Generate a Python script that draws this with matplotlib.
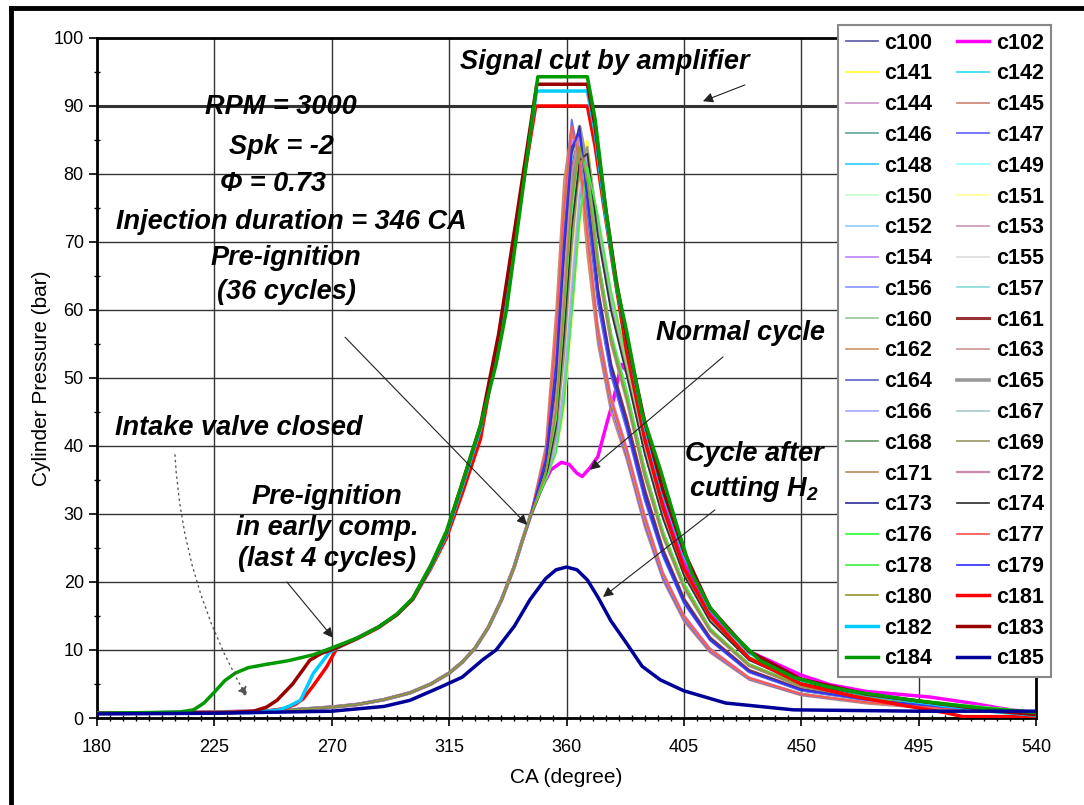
import matplotlib.pyplot as plt
from matplotlib import font_manager
from matplotlib.lines import Line2D

# pick the narrow face for ticks/labels if it is there
names = {f.name for f in font_manager.fontManager.ttflist}
NARROW = 'Liberation Sans Narrow' if 'Liberation Sans Narrow' in names else 'Liberation Sans'
plt.rcParams['font.family'] = ['Liberation Sans', 'DejaVu Sans']
plt.rcParams['mathtext.fontset'] = 'custom'
plt.rcParams['mathtext.rm'] = 'Liberation Sans:italic:bold'
plt.rcParams['mathtext.it'] = 'Liberation Sans:italic:bold'

# ---- shared compression part (all normal / late pre-ignition cycles) ----
COMP_CA = [180, 200, 220, 240, 255, 270, 280, 290, 300, 308, 315, 320, 325, 330, 335, 340, 343]
COMP_P = [0.7, 0.75, 0.85, 1.0, 1.2, 1.6, 2.0, 2.7, 3.7, 5.0, 6.6, 8.2, 10.3, 13.3, 17.3, 22.3, 26.0]

# ---- combustion / expansion part of the pre-ignition cycles ----
POST_CA = [346, 352, 356, 359, 362, 365, 368, 372, 377, 383, 390, 397, 405, 415, 430, 450, 475, 505, 540]
c100 = [29.5, 38, 55, 74, 86, 82, 70, 57, 46.5, 39, 29, 21, 14.8, 10, 5.8, 3.5, 2.3, 1.3, 0.6]
c141 = [29.4, 35, 41, 52, 68, 80, 85, 72, 61, 51.5, 39.5, 30, 21.5, 14.5, 8.7, 5.2, 3.3, 2.1, 0.9]
c142 = [29.6, 37, 50, 68, 82, 86, 76, 62, 51, 43, 32.5, 24, 17, 11.5, 6.8, 4.1, 2.7, 1.6, 0.7]
c144 = [29.5, 36, 46, 62, 78, 85, 79, 67, 56, 47.5, 36, 27, 19.5, 13, 7.8, 4.7, 3.0, 1.9, 0.8]
c145 = [29.5, 40, 60, 79, 87, 80, 68, 55, 45, 38, 28, 20.2, 14.2, 9.6, 5.6, 3.3, 2.1, 1.2, 0.5]
c146 = [29.4, 35, 40, 48, 62, 76, 84, 73, 62, 52, 40, 30.3, 21.8, 14.7, 8.8, 5.3, 3.4, 2.1, 0.9]
c147 = [29.6, 39, 57, 76, 88, 82, 70, 56, 46, 38.5, 28.5, 20.5, 14.5, 9.8, 5.7, 3.4, 2.2, 1.3, 0.6]
c148 = [29.5, 36, 44, 58, 75, 84, 80, 67.5, 56.5, 48, 36.5, 27.3, 19.7, 13.1, 7.9, 4.8, 3.0, 1.9, 0.8]
c149 = [29.5, 35, 42, 55, 71, 82, 83, 71, 60, 50.5, 39, 29.5, 21.2, 14.3, 8.6, 5.2, 3.3, 2.0, 0.9]
c150 = [29.4, 36, 47, 64, 79, 85, 77, 63, 52, 43.5, 33, 24.5, 17.3, 11.7, 6.9, 4.2, 2.7, 1.6, 0.7]
c151 = [29.5, 35, 39, 45, 58, 72, 81, 73, 62, 52.5, 40.5, 30.7, 22, 14.8, 8.9, 5.3, 3.4, 2.1, 0.9]
c152 = [29.6, 37, 52, 70, 84, 85, 75, 61, 50.5, 42.5, 32, 23.6, 16.8, 11.4, 6.7, 4.0, 2.6, 1.6, 0.7]
c153 = [29.5, 36, 45, 60, 76, 84, 79, 66.5, 55.5, 47, 35.5, 26.7, 19.2, 12.8, 7.7, 4.6, 2.9, 1.8, 0.8]
c154 = [29.4, 38, 54, 72, 85, 83, 72, 58, 47.5, 40, 30, 21.5, 15.2, 10.3, 6, 3.6, 2.3, 1.4, 0.6]
c155 = [29.5, 35, 41, 50, 65, 78, 84, 72, 61, 51.5, 39.5, 30, 21.5, 14.5, 8.7, 5.2, 3.3, 2.1, 0.9]
c156 = [29.5, 37, 49, 66, 81, 86, 77, 62.5, 51.5, 43, 33, 24.2, 17.2, 11.6, 6.8, 4.1, 2.7, 1.6, 0.7]
c157 = [29.6, 36, 43, 57, 73, 83, 80, 68, 57, 48.5, 36.8, 27.6, 19.9, 13.2, 8.0, 4.8, 3.1, 1.9, 0.8]
c160 = [29.5, 35, 40, 47, 60, 74, 82, 73, 62, 52, 40, 30.2, 21.7, 14.6, 8.8, 5.3, 3.4, 2.1, 0.9]
c161 = [29.5, 37, 48, 65, 80, 86, 78, 63, 52, 44, 33.5, 24.7, 17.5, 11.8, 7.0, 4.2, 2.8, 1.7, 0.7]
c162 = [29.4, 39, 58, 77, 87, 81, 69, 56.5, 46.5, 39, 29, 21, 14.8, 10, 5.8, 3.5, 2.2, 1.3, 0.6]
c163 = [29.5, 36, 45, 61, 77, 85, 79, 66, 55, 46.5, 35.3, 26.5, 19, 12.7, 7.6, 4.6, 2.9, 1.8, 0.8]
c164 = [29.5, 38, 53, 71, 84, 84, 74, 61, 50.5, 42.5, 32, 23.8, 16.9, 11.4, 6.7, 4.0, 2.6, 1.6, 0.7]
c165 = [29.6, 36, 42, 58, 78, 87, 81, 67, 56, 47.5, 36, 27, 19.5, 13, 7.8, 4.7, 3.0, 1.9, 0.8]
c166 = [29.5, 35, 40, 49, 63, 77, 83, 72, 61, 51, 39.2, 29.7, 21.3, 14.4, 8.6, 5.2, 3.3, 2.0, 0.9]
c167 = [29.4, 37, 51, 69, 83, 85, 76, 62, 51, 43, 32.8, 24.2, 17.1, 11.6, 6.8, 4.1, 2.7, 1.6, 0.7]
c168 = [29.5, 36, 46, 63, 79, 86, 80, 66.5, 55.5, 47, 35.7, 26.8, 19.3, 12.9, 7.7, 4.6, 2.9, 1.8, 0.8]
c169 = [29.5, 35, 42, 53, 69, 81, 84, 71.5, 60.5, 51, 39, 29.5, 21.2, 14.3, 8.6, 5.2, 3.3, 2.0, 0.9]
c171 = [29.6, 38, 55, 73, 86, 83, 72, 57.5, 47, 39.5, 29.5, 21.3, 15, 10.2, 5.9, 3.6, 2.3, 1.4, 0.6]
c172 = [29.5, 36, 47, 64, 80, 86, 80, 67, 56, 47.5, 36.2, 27.2, 19.6, 13.1, 7.8, 4.7, 3.0, 1.9, 0.8]
c173 = [29.5, 37, 50, 68, 83, 87, 77, 63, 52, 43.5, 33.2, 24.5, 17.4, 11.7, 6.9, 4.2, 2.7, 1.7, 0.7]
c174 = [29.4, 35, 43, 56, 72, 82, 83, 71, 60, 50.5, 38.8, 29.3, 21, 14.2, 8.5, 5.1, 3.3, 2.0, 0.9]
c176 = [29.5, 36, 44, 59, 75, 84, 80, 67.5, 56.5, 48, 36.5, 27.4, 19.8, 13.2, 7.9, 4.8, 3.0, 1.9, 0.8]
c177 = [29.5, 39, 57, 75, 87, 82, 71, 57, 47, 39.5, 29.5, 21.2, 15, 10.1, 5.9, 3.5, 2.3, 1.4, 0.6]
c178 = [29.6, 35, 39, 46, 59, 73, 81, 74, 63, 53, 41, 31, 22.2, 15, 9, 5.4, 3.5, 2.2, 0.9]
c179 = [29.5, 38, 52, 70, 84, 86, 76, 62, 51, 43, 32.5, 24, 17, 11.5, 6.8, 4.1, 2.7, 1.6, 0.7]
c180 = [29.5, 36, 45, 60, 76, 84, 79, 67, 56, 47.2, 36, 27, 19.4, 13, 7.8, 4.7, 3.0, 1.9, 0.8]

# ---- normal cycle (c102) after the shared compression ----
c102_ca = [346, 350, 354, 358, 361, 364, 366, 369, 372, 375.5, 378, 381, 385, 390, 397, 405, 415, 430, 450, 461, 475, 499, 515, 530, 540]
c102_p = [29.5, 33.5, 36.5, 37.6, 37.3, 36.0, 35.5, 36.8, 38.4, 43.4, 46.8, 52, 50, 42, 32, 23, 15.5, 9.8, 6.3, 4.9, 3.9, 3.1, 2.2, 1.2, 0.8]

# ---- pre-ignition in early compression (last 4 cycles), clipped by amplifier ----
c181_ca = [180, 230, 245, 252, 256, 259, 263, 268, 272, 280, 288, 295, 301, 308, 314, 320, 327, 334.5, 341, 348.2,
           368, 371, 374, 378, 383, 390, 397, 405, 415, 430, 450, 470, 490, 505, 512, 540]
c181_p = [0.7, 0.8, 1.0, 1.4, 2.0, 2.8, 4.8, 7.5, 10.3, 11.7, 13.3, 15.2, 17.4, 22, 26.5, 33, 41, 57, 73, 90,
          90, 84, 76, 66, 54, 41, 31, 22, 15, 8.8, 5.0, 3.2, 1.8, 0.8, 0.2, 0.2]
c182_ca = [180, 240, 250, 254, 258, 263, 269, 272, 280, 288, 295, 301, 308, 314, 320, 327, 334, 341, 348.5,
           368, 371, 375, 379, 383, 390, 397, 405, 415, 430, 450, 475, 505, 525, 540]
c182_p = [0.7, 0.8, 1.2, 1.8, 2.6, 6.6, 9.6, 10.3, 11.8, 13.4, 15.2, 17.5, 22.2, 27, 34, 42.5, 56, 73, 92.2,
          92.2, 86, 74, 64, 56, 43, 33, 24, 16, 9.6, 5.6, 3.4, 1.8, 0.9, 0.4]
c183_ca = [180, 232, 240, 245, 249, 255, 261.6, 266, 270.5, 280, 288, 295, 301, 308, 314, 320, 327, 334, 341, 348.6,
           368, 371, 375, 379, 383, 390, 397, 405, 415, 430, 450, 475, 505, 525, 540]
c183_p = [0.7, 0.8, 1.0, 1.6, 2.6, 5.0, 8.5, 9.5, 10.1, 11.8, 13.4, 15.2, 17.5, 22.4, 27.3, 34.5, 43, 56.5, 74, 93.2,
          93.2, 87, 75, 64.5, 56, 43.5, 33.5, 24.5, 16.2, 9.8, 5.7, 3.5, 2.0, 1.0, 0.5]
c184_ca = [180, 200, 212, 217, 221, 225, 229, 233, 238, 245, 253, 263, 270, 280, 288, 295, 301, 308, 314, 320, 327, 333, 337, 343, 349,
           368, 371, 375, 379, 383, 389, 396, 402, 408, 415, 422, 434, 447, 460, 473, 495, 520, 540]
c184_p = [0.7, 0.8, 0.9, 1.2, 2.2, 3.8, 5.5, 6.6, 7.4, 7.9, 8.4, 9.3, 10.3, 11.8, 13.4, 15.3, 17.6, 22.5, 27.5, 34.5, 43, 52, 60, 77, 94.3,
          94.3, 88, 75, 64, 57, 44.8, 36.5, 28.7, 21.3, 16.3, 13, 8.5, 6, 4.6, 3.7, 2.5, 1.4, 0.8]

# ---- cycle after cutting H2 ----
c185_ca = [180, 225, 270, 290, 300, 312, 320, 328, 333, 340, 346, 352, 356, 360, 364, 368, 372, 377, 383, 389, 396, 405, 421, 447, 495, 540]
c185_p = [0.6, 0.7, 1.0, 1.7, 2.6, 4.6, 6.0, 8.6, 10.0, 13.5, 17.4, 20.5, 21.8, 22.2, 21.8, 20.3, 17.8, 14.3, 11.0, 7.6, 5.6, 4.0, 2.2, 1.2, 1.0, 1.0]

LEGEND_ROWS = [('c100', 'c102'), ('c141', 'c142'), ('c144', 'c145'), ('c146', 'c147'), ('c148', 'c149'),
               ('c150', 'c151'), ('c152', 'c153'), ('c154', 'c155'), ('c156', 'c157'), ('c160', 'c161'),
               ('c162', 'c163'), ('c164', 'c165'), ('c166', 'c167'), ('c168', 'c169'), ('c171', 'c172'),
               ('c173', 'c174'), ('c176', 'c177'), ('c178', 'c179'), ('c180', 'c181'), ('c182', 'c183'),
               ('c184', 'c185')]

COLORS = {
    'c100': '#5c5ca8', 'c102': '#ff00ff', 'c141': '#ffff33', 'c142': '#33ddee', 'c144': '#cc99cc',
    'c145': '#cc8877', 'c146': '#66aaa0', 'c147': '#6666ff', 'c148': '#33ccff', 'c149': '#99ffff',
    'c150': '#ccffcc', 'c151': '#ffff99', 'c152': '#99ccff', 'c153': '#cc99bb', 'c154': '#bb88ff',
    'c155': '#dddddd', 'c156': '#8899ff', 'c157': '#88dddd', 'c160': '#99cc99', 'c161': '#993333',
    'c162': '#cc9966', 'c163': '#cc9999', 'c164': '#6666cc', 'c165': '#999999', 'c166': '#aaaaff',
    'c167': '#aacccc', 'c168': '#669966', 'c169': '#999966', 'c171': '#c09060', 'c172': '#cc88aa',
    'c173': '#333399', 'c174': '#333333', 'c176': '#33ff33', 'c177': '#ff5555', 'c178': '#44ee44',
    'c179': '#3333ff', 'c180': '#999933', 'c181': '#ff0000', 'c182': '#00ccff', 'c183': '#990000',
    'c184': '#009900', 'c185': '#000099',
}
WIDTHS = {'c102': 2.5, 'c161': 2.2, 'c165': 2.6, 'c172': 1.6, 'c181': 2.5, 'c182': 2.5,
          'c183': 2.5, 'c184': 2.5, 'c185': 2.5}

THIN = {'c100': c100, 'c141': c141, 'c142': c142, 'c144': c144, 'c145': c145, 'c146': c146, 'c147': c147,
        'c148': c148, 'c149': c149, 'c150': c150, 'c151': c151, 'c152': c152, 'c153': c153, 'c154': c154,
        'c155': c155, 'c156': c156, 'c157': c157, 'c160': c160, 'c161': c161, 'c162': c162, 'c163': c163,
        'c164': c164, 'c165': c165, 'c166': c166, 'c167': c167, 'c168': c168, 'c169': c169, 'c171': c171,
        'c172': c172, 'c173': c173, 'c174': c174, 'c176': c176, 'c177': c177, 'c178': c178, 'c179': c179,
        'c180': c180}

series = {k: (COMP_CA + POST_CA, COMP_P + v) for k, v in THIN.items()}
series['c102'] = (COMP_CA + c102_ca, COMP_P + c102_p)
series['c181'] = (c181_ca, c181_p)
series['c182'] = (c182_ca, c182_p)
series['c183'] = (c183_ca, c183_p)
series['c184'] = (c184_ca, c184_p)
series['c185'] = (c185_ca, c185_p)

fig = plt.figure(figsize=(10.84, 8.05), dpi=100)
ax = fig.add_axes([97 / 1084, 1 - 718 / 805, 939 / 1084, 680 / 805])

# draw in series order (c100, c102, c141 ... c185)
order = sorted(series.keys(), key=lambda s: int(s[1:]))
lines = {}
for name in order:
    x, y = series[name]
    lines[name], = ax.plot(x, y, color=COLORS[name], lw=WIDTHS.get(name, 1.25), zorder=3)

ax.set_xlim(180, 540)
ax.set_ylim(0, 100)
ax.set_xticks(range(180, 541, 45))
ax.set_yticks(range(0, 101, 10))
ax.set_xticks(range(180, 541, 5), minor=True)
ax.set_yticks(range(0, 101, 5), minor=True)
ax.grid(True, which='major', color='#333333', lw=1.0, zorder=1)
ax.axhline(90, color='#333333', lw=2.2, zorder=1)
for s in ax.spines.values():
    s.set_color('black')
    s.set_linewidth(2)
ax.tick_params(axis='both', which='major', length=6, width=1.2, labelsize=13)
ax.tick_params(axis='x', which='major', pad=9)
ax.tick_params(axis='both', which='minor', length=4, width=1, direction='inout')
for lab in ax.get_xticklabels() + ax.get_yticklabels():
    lab.set_family(NARROW)

ax.set_xlabel('CA (degree)', family=NARROW, fontsize=15)
ax.set_ylabel('Cylinder Pressure (bar)', family=NARROW, fontsize=15)
ax.xaxis.set_label_coords(0.5, -0.073)
ax.yaxis.set_label_coords(-0.049, 0.5)

tk = dict(fontsize=19.5, fontweight='bold', style='italic', ha='center', va='center', zorder=5)
ax.text(374.8, 96.5, 'Signal cut by amplifier', **tk)
ax.text(250.5, 89.9, 'RPM = 3000', **tk)
ax.text(250.9, 84.0, 'Spk = -2', **tk)
ax.text(247.5, 78.5, '\u03a6 = 0.73', **tk)
ax.text(254.4, 72.9, 'Injection duration = 346 CA', **tk)
ax.text(426.9, 56.6, 'Normal cycle', **tk)
ax.text(234.4, 42.6, 'Intake valve closed', **tk)
ax.text(252.5, 65.2, 'Pre-ignition\n(36 cycles)', linespacing=1.4, **tk)
ax.text(268.2, 27.9, 'Pre-ignition\nin early comp.\n(last 4 cycles)', linespacing=1.25, **tk)
ax.text(431.9, 36.1, 'Cycle after\ncutting H$_2$', linespacing=1.3, **tk)

arr = dict(arrowstyle='-|>', color='#222222', lw=0.8, mutation_scale=15, shrinkA=0, shrinkB=0)
ax.annotate('', xy=(412.3, 90.7), xytext=(428.4, 93.1), arrowprops=arr, zorder=6)
ax.annotate('', xy=(344.9, 28.4), xytext=(275.1, 56.0), arrowprops=arr, zorder=6)
ax.annotate('', xy=(369.0, 36.5), xytext=(420.0, 53.1), arrowprops=arr, zorder=6)
ax.annotate('', xy=(374.0, 17.8), xytext=(416.9, 30.6), arrowprops=arr, zorder=6)
ax.annotate('', xy=(270.5, 11.8), xytext=(252.8, 20.0), arrowprops=arr, zorder=6)
ax.annotate('', xy=(237.5, 3.1), xytext=(209.9, 38.7), zorder=6,
            arrowprops=dict(arrowstyle='-|>', color='#555555', lw=1.0, ls=(0, (1, 3)), mutation_scale=15,
                            shrinkA=0, shrinkB=0, connectionstyle='arc3,rad=0.12'))

# legend, filled row by row like the original (c100, c102 on the first row)
left = [r[0] for r in LEGEND_ROWS]
right = [r[1] for r in LEGEND_ROWS]
labels = left + right
leg = fig.legend([lines[n] for n in labels], labels, ncol=2, loc='upper left',
                 bbox_to_anchor=(838 / 1084, 1 - 25 / 805), borderaxespad=0, frameon=True, fancybox=False,
                 edgecolor='#888888', framealpha=1, prop=dict(family='Liberation Sans', weight='bold', size=15.5),
                 handlelength=1.5, handletextpad=0.3, columnspacing=1.15, labelspacing=0.455, borderpad=0.35)
leg.get_frame().set_linewidth(1.5)

# black frame at the top and left of the picture
fig.add_artist(Line2D([11 / 1084, 11 / 1084], [0, 1 - 8 / 805], color='black', lw=3.5, transform=fig.transFigure))
fig.add_artist(Line2D([11 / 1084, 1], [1 - 8 / 805, 1 - 8 / 805], color='black', lw=3.5, transform=fig.transFigure))

fig.savefig('out.png', dpi=100)
